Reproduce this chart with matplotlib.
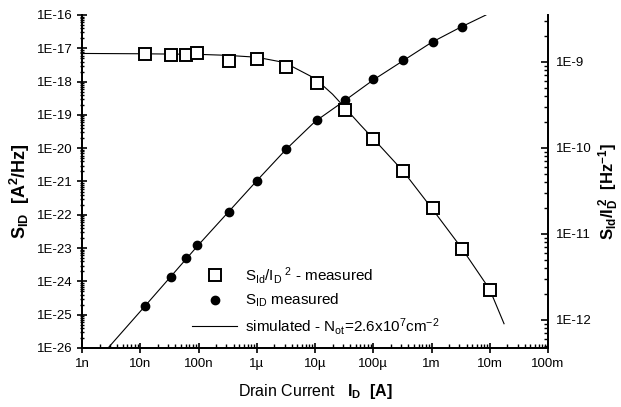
import numpy as np
import matplotlib
matplotlib.use("Agg")
import matplotlib.pyplot as plt
from matplotlib.ticker import LogLocator, NullFormatter, FixedLocator, FixedFormatter

plt.rcParams['font.family'] = ['Liberation Sans', 'DejaVu Sans']
plt.rcParams['mathtext.fontset'] = 'custom'
plt.rcParams['mathtext.rm'] = 'Liberation Sans'
plt.rcParams['mathtext.it'] = 'Liberation Sans'
plt.rcParams['mathtext.bf'] = 'Liberation Sans:bold'

# measured drain currents (A)
i_meas = [1.2e-8, 3.4e-8, 6.2e-8, 9.6e-8, 3.3e-7, 1.0e-6, 3.2e-6,
          1.1e-5, 3.3e-5, 1.0e-4, 3.3e-4, 1.05e-3, 3.3e-3, 1.02e-2]

# S_ID measured (A^2/Hz), left axis
s_id = [1.8e-25, 1.4e-24, 4.9e-24, 1.26e-23, 1.19e-22, 1.03e-21, 9.5e-21,
        7.0e-20, 2.8e-19, 1.17e-18, 4.4e-18, 1.55e-17, 4.46e-17]

# S_Id/I_D^2 measured (1/Hz), right axis
s_norm = [1.24e-9, 1.2e-9, 1.2e-9, 1.27e-9, 1.02e-9, 1.08e-9, 8.8e-10,
          5.65e-10, 2.74e-10, 1.27e-10, 5.4e-11, 1.99e-11, 6.7e-12, 2.2e-12]

# simulated curves
i_sim_s = [2.8e-9, 1e-8, 1e-7, 1e-6, 3.2e-6, 1e-5, 3.3e-5, 1e-4,
           3.3e-4, 1e-3, 3e-3, 8.6e-3]
s_sim = [1e-26, 1.25e-25, 1.25e-23, 1.05e-21, 9.3e-21, 6.3e-20, 2.75e-19,
         1.12e-18, 4.3e-18, 1.5e-17, 4.1e-17, 1e-16]

i_sim_n = [1e-9, 1e-8, 1e-7, 3e-7, 1e-6, 3e-6, 1e-5, 2e-5, 3.3e-5, 6e-5,
           1e-4, 3.3e-4, 1e-3, 3.3e-3, 1e-2, 1.76e-2]
n_sim = [1.25e-9, 1.24e-9, 1.22e-9, 1.19e-9, 1.13e-9, 9.8e-10, 6.4e-10,
         4.2e-10, 2.9e-10, 1.85e-10, 1.28e-10, 5.3e-11, 2.0e-11, 6.8e-12,
         2.25e-12, 9e-13]

x_ticks = [1e-9, 1e-8, 1e-7, 1e-6, 1e-5, 1e-4, 1e-3, 1e-2, 1e-1]
x_labels = ['1n', '10n', '100n', '1µ', '10µ', '100µ', '1m', '10m', '100m']

fig = plt.figure(figsize=(6.21, 4.07), dpi=100)
ax = fig.add_axes([82/621, 1-348/407, (548-82)/621, (348-15)/407])
ax2 = ax.twinx()

ax.plot(i_sim_s, s_sim, color='black', lw=0.8)
ax.plot(i_meas[:len(s_id)], s_id, 'o', color='black', ms=6)
ax2.plot(i_sim_n, n_sim, color='black', lw=0.8)
ax2.plot(i_meas, s_norm, 's', mfc='white', mec='black', mew=1.4, ms=9)

for a in (ax, ax2):
    a.set_xscale('log')
    a.set_yscale('log')
    a.spines['top'].set_visible(False)
    for s in ('left', 'right', 'bottom'):
        a.spines[s].set_linewidth(1.3)

ax.set_xlim(1e-9, 1e-1)
ax.set_ylim(1e-26, 1e-16)
ax2.set_ylim(4.7e-13, 3.5e-9)

ax.xaxis.set_major_locator(FixedLocator(x_ticks))
ax.xaxis.set_major_formatter(FixedFormatter(x_labels))
ax.xaxis.set_minor_locator(LogLocator(base=10, subs=np.arange(2, 10), numticks=20))
ax.xaxis.set_minor_formatter(NullFormatter())

ax.yaxis.set_major_locator(FixedLocator([10.0**k for k in range(-26, -15)]))
ax.yaxis.set_major_formatter(FixedFormatter(['1E%d' % k for k in range(-26, -15)]))
ax.yaxis.set_minor_locator(LogLocator(base=10, subs=np.arange(2, 10), numticks=20))
ax.yaxis.set_minor_formatter(NullFormatter())

ax2.yaxis.set_major_locator(FixedLocator([1e-12, 1e-11, 1e-10, 1e-9]))
ax2.yaxis.set_major_formatter(FixedFormatter(['1E-12', '1E-11', '1E-10', '1E-9']))
ax2.yaxis.set_minor_locator(LogLocator(base=10, subs=np.arange(2, 10), numticks=20))
ax2.yaxis.set_minor_formatter(NullFormatter())

ax.tick_params(axis='x', which='major', direction='inout', length=7, width=1.2, labelsize=9.5, pad=4)
ax.tick_params(axis='x', which='minor', direction='in', length=3, width=1)
ax.tick_params(axis='y', which='major', direction='inout', length=7, width=1.2, labelsize=9.5, pad=3)
ax.tick_params(axis='y', which='minor', direction='inout', length=3, width=1)
ax2.tick_params(axis='y', which='major', direction='in', length=5, width=1.2, labelsize=9.5, pad=6)
ax2.tick_params(axis='y', which='minor', direction='in', length=3, width=1)

ax.set_ylabel(r'$\mathbf{S_{ID}}$  $\mathbf{[A^2/Hz]}$', fontsize=13)
ax.yaxis.set_label_coords((32-82)/466, 0.47)
ax2.set_ylabel(r'$\mathbf{S_{Id}/I_D^{\ 2}}$  $\mathbf{[Hz^{-1}]}$', fontsize=12,
               rotation=90)
ax2.yaxis.set_label_coords((597-82)/466, 0.47)
ax.set_xlabel(r'Drain Current   $\mathbf{I_D}$  $\mathbf{[A]}$', fontsize=11.5, labelpad=8)

h1, = ax2.plot([], [], 's', mfc='white', mec='black', mew=1.4, ms=9)
h2, = ax.plot([], [], 'o', color='black', ms=6)
h3, = ax.plot([], [], color='black', lw=0.8)
ax.legend([h1, h2, h3],
          [r'S$_{\mathrm{Id}}$/I$_\mathrm{D}$$^{\ 2}$ - measured',
           r'S$_{\mathrm{ID}}$ measured',
           r'simulated - N$_{\mathrm{ot}}$=2.6x10$^{7}$cm$^{-2}$'],
          loc='upper left', bbox_to_anchor=(184/621, 1-257/407),
          bbox_transform=fig.transFigure, frameon=False, fontsize=11,
          handlelength=3.0, handletextpad=0.5, labelspacing=0.42, borderpad=0)

fig.savefig('out.png', dpi=100)
